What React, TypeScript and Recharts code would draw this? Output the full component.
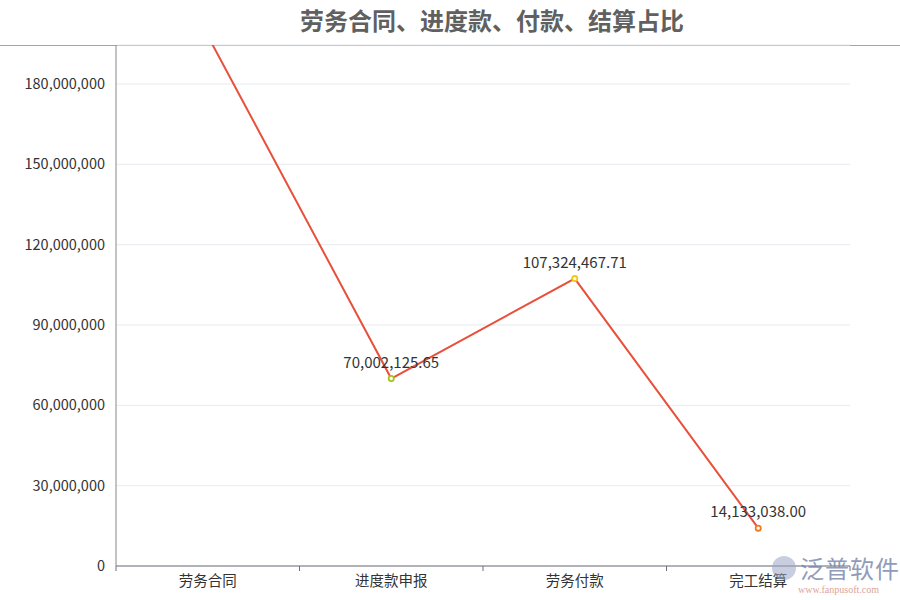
import React from 'react';
import { LineChart, Line, XAxis, YAxis, CartesianGrid, LabelList } from 'recharts';

const categories = ['劳务合同', '进度款申报', '劳务付款', '完工结算'];
const values = [198000000, 70002125.65, 107324467.71, 14133038.0];
const dotColors = ['#e8503a', '#a8c31c', '#f6c51c', '#ee7d22'];
const yTicks = [0, 30000000, 60000000, 90000000, 120000000, 150000000, 180000000];
const yMax = 194560000;
const boundaryTicks = [0, 1, 2, 3, 4];

const data = categories.map((c, i) => ({ name: c, value: values[i], color: dotColors[i], idx: i + 0.5 }));

const fmtInt = (v: number) => v.toLocaleString('en-US');
const fmtDec = (v: number) =>
  v.toLocaleString('en-US', { minimumFractionDigits: 2, maximumFractionDigits: 2 });

const FONT = '"Noto Sans CJK SC", "Noto Sans", sans-serif';

const Dot = (props: any) => {
  const { cx, cy, payload, value } = props;
  if (cx == null || cy == null || value > yMax) return null;
  return <circle cx={cx} cy={cy} r={2.6} fill="#fff" stroke={payload.color} strokeWidth={1.8} />;
};

const ValueLabel = (props: any) => {
  const { x, y, value } = props;
  if (value > yMax) return null;
  return (
    <text x={x} y={y - 11} textAnchor="middle" fill="#333" fontSize={15} fontFamily={FONT}>
      {fmtDec(value)}
    </text>
  );
};

const EmptyTick = () => <g />;

export default function App() {
  return (
    <div style={{ position: 'absolute', left: 0, top: 0, width: 900, height: 600, background: '#fff', fontFamily: FONT }}>
      <div
        style={{
          position: 'absolute',
          left: 0,
          width: 984,
          top: 3,
          textAlign: 'center',
          fontSize: 24,
          fontWeight: 'bold',
          color: '#606060',
          lineHeight: '34px',
        }}
      >
        劳务合同、进度款、付款、结算占比
      </div>
      <div style={{ position: 'absolute', left: 0, top: 44.5, width: 900, height: 1, background: '#7eaedc' }} />
      <LineChart width={900} height={600} data={data} margin={{ top: 45, right: 50, bottom: 0, left: 0 }}>
        <CartesianGrid horizontal vertical={false} xAxisId="cat" stroke="#e8eaf1" />
        <XAxis
          xAxisId="bnd"
          type="number"
          dataKey="idx"
          domain={[0, 4]}
          ticks={boundaryTicks}
          height={1}
          tick={<EmptyTick />}
          tickSize={5}
          stroke="#6e7079"
          axisLine={{ stroke: '#6e7079' }}
          tickLine={{ stroke: '#6e7079' }}
          interval={0}
        />
        <XAxis
          xAxisId="cat"
          dataKey="name"
          scale="band"
          height={33}
          axisLine={false}
          tickLine={false}
          tickSize={4}
          tickMargin={5}
          tick={{ fill: '#333', fontSize: 14.5, fontFamily: FONT }}
          interval={0}
        />
        <YAxis
          width={116}
          domain={[0, yMax]}
          ticks={yTicks}
          allowDataOverflow
          tickFormatter={fmtInt}
          tickLine={false}
          tickSize={9}
          tickMargin={2}
          axisLine={{ stroke: '#888' }}
          tick={{ fill: '#333', fontSize: 14.5, fontFamily: FONT }}
          interval={0}
        />
        <Line
          xAxisId="cat"
          type="linear"
          dataKey="value"
          stroke="#e8503a"
          strokeWidth={2}
          dot={<Dot />}
          activeDot={false}
          isAnimationActive={false}
        >
          <LabelList dataKey="value" content={<ValueLabel />} />
        </Line>
      </LineChart>
      <div style={{ position: 'absolute', left: 772, top: 556, width: 24, height: 24, borderRadius: 12, background: '#9aa6c4', opacity: 0.55 }} />
      <div style={{ position: 'absolute', left: 800, top: 555, fontSize: 24, lineHeight: '26px', color: '#7584aa', opacity: 0.8, letterSpacing: 1 }}>
        泛普软件
      </div>
      <div style={{ position: 'absolute', left: 798, top: 584, fontSize: 10, lineHeight: '12px', color: '#d99a8f', fontFamily: 'serif', opacity: 0.9 }}>
        www.fanpusoft.com
      </div>
    </div>
  );
}
